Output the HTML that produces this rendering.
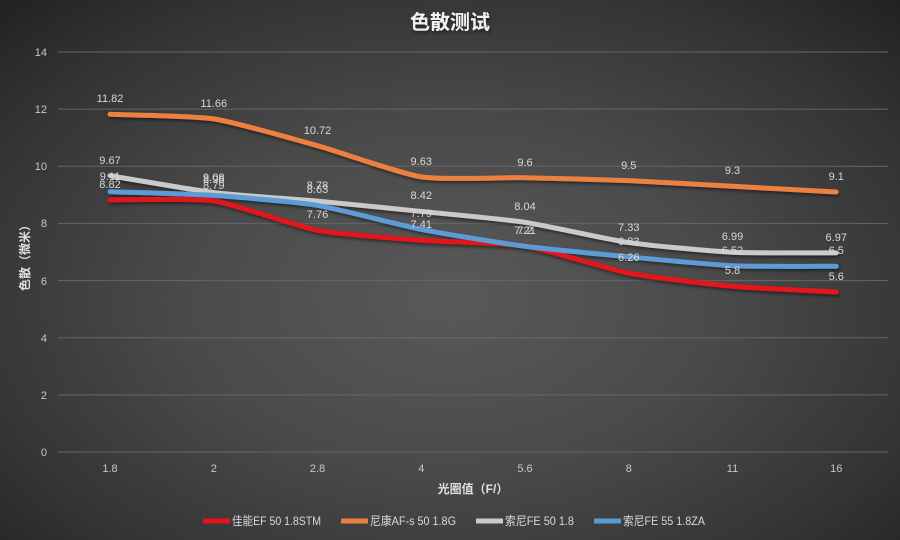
<!DOCTYPE html>
<html><head><meta charset="utf-8"><style>
html,body{margin:0;padding:0;}
body{width:900px;height:540px;overflow:hidden;background:radial-gradient(ellipse 75% 80% at 50% 55%,#595959 0%,#4a4a4a 40%,#333 75%,#1e1e1e 100%);}
svg{display:block;}
text{font-family:"Liberation Sans","Noto Sans CJK SC",sans-serif;}
</style></head><body>
<svg width="900" height="540" viewBox="0 0 900 540" xmlns="http://www.w3.org/2000/svg">
<defs>
<filter id="sh" x="-10%" y="-10%" width="120%" height="130%"><feDropShadow dx="1" dy="2" stdDeviation="1.5" flood-color="#000" flood-opacity="0.5"/></filter>
</defs>
<!-- title -->
<text x="450" y="29" text-anchor="middle" font-size="20" font-weight="bold" fill="#f2f2f2" filter="url(#sh)">色散测试</text>
<!-- gridlines -->
<g stroke="#666" stroke-width="1">
<line x1="58" y1="52" x2="888" y2="52"/>
<line x1="58" y1="109.1" x2="888" y2="109.1"/>
<line x1="58" y1="166.3" x2="888" y2="166.3"/>
<line x1="58" y1="223.4" x2="888" y2="223.4"/>
<line x1="58" y1="280.6" x2="888" y2="280.6"/>
<line x1="58" y1="337.7" x2="888" y2="337.7"/>
<line x1="58" y1="394.9" x2="888" y2="394.9"/>
<line x1="58" y1="452" x2="888" y2="452"/>
</g>
<!-- y ticks -->
<g font-size="11" fill="#c8c8c8" text-anchor="end">
<text x="47" y="56">14</text>
<text x="47" y="113">12</text>
<text x="47" y="170">10</text>
<text x="47" y="227">8</text>
<text x="47" y="285">6</text>
<text x="47" y="342">4</text>
<text x="47" y="399">2</text>
<text x="47" y="456">0</text>
</g>
<!-- x ticks -->
<g font-size="11" fill="#c8c8c8" text-anchor="middle">
<text x="110" y="472">1.8</text>
<text x="213.75" y="472">2</text>
<text x="317.5" y="472">2.8</text>
<text x="421.25" y="472">4</text>
<text x="525" y="472">5.6</text>
<text x="628.75" y="472">8</text>
<text x="732.5" y="472">11</text>
<text x="836.25" y="472">16</text>
</g>
<text x="473" y="493" text-anchor="middle" font-size="12" font-weight="bold" fill="#e0e0e0">光圈值（F/）</text>
<text transform="translate(29,255) rotate(-90)" text-anchor="middle" font-size="12" font-weight="bold" fill="#e0e0e0">色散（微米）</text>
<!-- series -->
<g fill="none" stroke-width="5" stroke-linecap="round" stroke-linejoin="round" filter="url(#sh)">
<path stroke="#e3141c" d="M110,200 C120.38,200.09 193,197.83 213.75,200.86 C234.5,203.89 296.75,226.35 317.5,230.29 C338.25,234.23 400.5,238.72 421.25,240.29 C442,241.86 504.25,242.71 525,246 C545.75,249.29 608,269.11 628.75,273.14 C649.5,277.17 711.75,284.41 732.5,286.29 C753.25,288.17 825.88,291.43 836.25,292"/>
<path stroke="#ec8040" d="M110,114.29 C120.38,114.75 193,115.72 213.75,118.86 C234.5,122 296.75,139.91 317.5,145.71 C338.25,151.51 400.5,173.66 421.25,176.86 C442,180.06 504.25,177.34 525,177.71 C545.75,178.08 608,179.71 628.75,180.57 C649.5,181.43 711.75,185.15 732.5,186.29 C753.25,187.43 825.88,191.43 836.25,192"/>
<path stroke="#cacaca" d="M110,175.71 C120.38,177.4 193,190.03 213.75,192.57 C234.5,195.11 296.75,199.26 317.5,201.14 C338.25,203.02 400.5,209.31 421.25,211.43 C442,213.55 504.25,219.18 525,222.29 C545.75,225.4 608,239.57 628.75,242.57 C649.5,245.57 711.75,251.26 732.5,252.29 C753.25,253.32 825.88,252.8 836.25,252.86"/>
<path stroke="#5b9bd5" d="M110,191.71 C120.38,192.08 193,194.06 213.75,195.43 C234.5,196.8 296.75,202.03 317.5,205.43 C338.25,208.83 400.5,225.34 421.25,229.43 C442,233.52 504.25,243.55 525,246.29 C545.75,249.03 608,254.92 628.75,256.86 C649.5,258.8 711.75,264.77 732.5,265.71 C753.25,266.65 825.88,266.23 836.25,266.29"/>
</g>
<!-- data labels -->
<g font-size="11" fill="#d9d9d9" text-anchor="middle">
<text x="110" y="102">11.82</text>
<text x="213.75" y="107">11.66</text>
<text x="317.5" y="134">10.72</text>
<text x="421.25" y="165">9.63</text>
<text x="525" y="166">9.6</text>
<text x="628.75" y="169">9.5</text>
<text x="732.5" y="174">9.3</text>
<text x="836.25" y="180">9.1</text>

<text x="110" y="164">9.67</text>
<text x="213.75" y="181">9.08</text>
<text x="317.5" y="189">8.78</text>
<text x="421.25" y="199">8.42</text>
<text x="525" y="210">8.04</text>
<text x="628.75" y="231">7.33</text>
<text x="732.5" y="240">6.99</text>
<text x="836.25" y="241">6.97</text>

<text x="110" y="180">9.11</text>
<text x="213.75" y="183">8.98</text>
<text x="317.5" y="193">8.63</text>
<text x="421.25" y="217">7.79</text>
<text x="525" y="234">7.2</text>
<text x="628.75" y="245">6.83</text>
<text x="732.5" y="254">6.52</text>
<text x="836.25" y="254">6.5</text>

<text x="110" y="188">8.82</text>
<text x="213.75" y="189">8.79</text>
<text x="317.5" y="218">7.76</text>
<text x="421.25" y="228">7.41</text>
<text x="525" y="234">7.21</text>
<text x="628.75" y="261">6.26</text>
<text x="732.5" y="274">5.8</text>
<text x="836.25" y="280">5.6</text>
</g>
<!-- legend -->
<g stroke-width="5" stroke-linecap="butt">
<line x1="203" y1="521" x2="230" y2="521" stroke="#e3141c"/>
<line x1="341" y1="521" x2="368" y2="521" stroke="#ec8040"/>
<line x1="476" y1="521" x2="503" y2="521" stroke="#cacaca"/>
<line x1="594" y1="521" x2="621" y2="521" stroke="#5b9bd5"/>
</g>
<g font-size="12" fill="#d9d9d9">
<text x="232" y="525" textLength="89" lengthAdjust="spacingAndGlyphs">佳能EF 50 1.8STM</text>
<text x="370" y="525" textLength="86" lengthAdjust="spacingAndGlyphs">尼康AF-s 50 1.8G</text>
<text x="505" y="525" textLength="69" lengthAdjust="spacingAndGlyphs">索尼FE 50 1.8</text>
<text x="623" y="525" textLength="82" lengthAdjust="spacingAndGlyphs">索尼FE 55 1.8ZA</text>
</g>
</svg>
</body></html>
